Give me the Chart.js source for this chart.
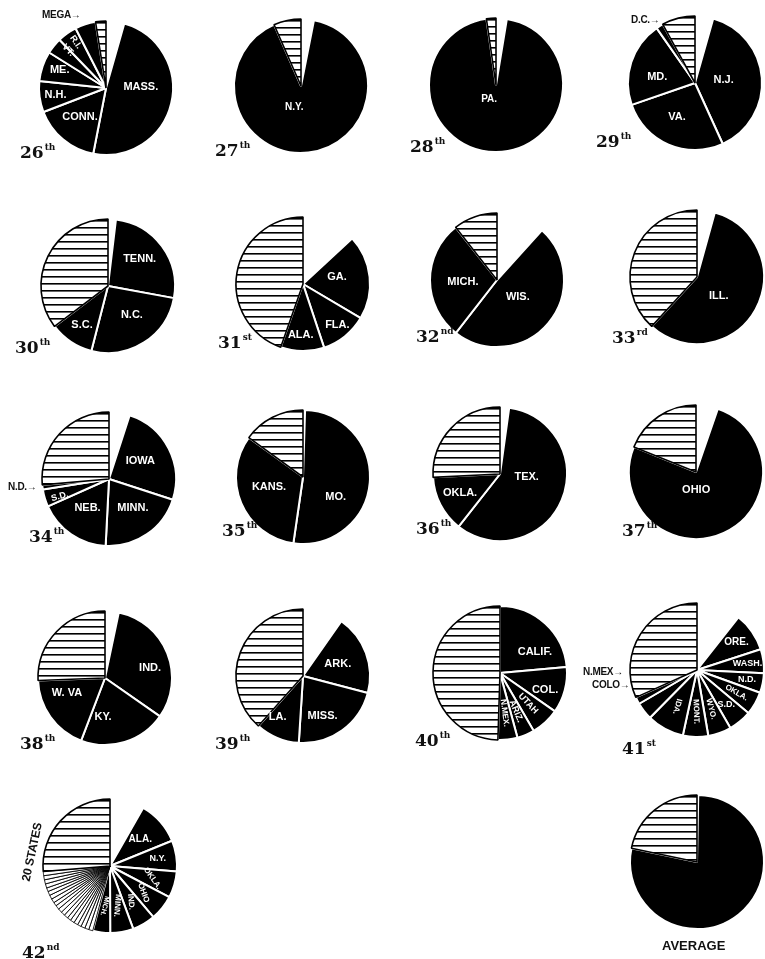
<!DOCTYPE html>
<html><head><meta charset="utf-8">
<script src="https://cdn.jsdelivr.net/npm/chart.js@4"></script>
<style>
body{margin:0;background:#fff;width:765px;height:959px;overflow:hidden;position:relative;}
canvas{position:absolute;z-index:1;}
.lbl{position:absolute;z-index:2;font-family:"DejaVu Serif",serif;font-weight:bold;font-size:17px;color:#111;white-space:nowrap;line-height:1;}
.lbl sup{font-size:9px;vertical-align:8px;margin-left:1px;}
.note{position:absolute;z-index:2;font-family:"Liberation Sans",sans-serif;font-weight:bold;font-size:10px;color:#111;white-space:nowrap;line-height:1;letter-spacing:-0.3px;}
</style></head><body>
<script>
// ---------- DATA: share of each slice (percent of circle), clockwise from 12 o'clock ----------
// "" = blank wedge, "REST" = hatched remainder, "*" = one of the "20 states" thin wedges
const congresses = ["26th","27th","28th","29th","30th","31st","32nd","33rd","34th","35th","36th","37th","38th","39th","40th","41st","42nd","AVERAGE"];

const states26 = ["", "MASS.", "CONN.", "N.H.", "ME.", "VT.", "R.I.", "MEGA", "REST"];
const values26 = [4.4, 48.6, 16.1, 7.5, 7.2, 3.9, 4.7, 5.0, 2.5];
const states27 = ["", "N.Y.", "REST"];
const values27 = [3.1, 90.3, 6.6];
const states28 = ["", "PA.", "REST"];
const values28 = [2.6, 95.1, 2.3];
const states29 = ["", "N.J.", "VA.", "MD.", "D.C.", "REST"];
const values29 = [4.4, 38.8, 26.5, 20.6, 1.7, 8.0];
const states30 = ["", "TENN.", "N.C.", "S.C.", "REST"];
const values30 = [1.9, 26.0, 26.1, 10.7, 35.3];
const states31 = ["", "GA.", "FLA.", "ALA.", "REST"];
const values31 = [13.1, 20.4, 11.4, 10.5, 44.6];
const states32 = ["", "WIS.", "MICH.", "REST"];
const values32 = [11.7, 48.8, 28.9, 10.6];
const states33 = ["", "ILL.", "REST"];
const values33 = [4.3, 57.5, 38.2];
const states34 = ["", "IOWA", "MINN.", "NEB.", "S.D.", "N.D.", "REST"];
const values34 = [5.0, 25.0, 20.8, 17.5, 4.2, 1.1, 26.4];
const states35 = ["", "MO.", "KANS.", "REST"];
const values35 = [0.5, 51.8, 32.7, 15.0];
const states36 = ["", "TEX.", "OKLA.", "REST"];
const values36 = [2.2, 58.4, 13.6, 25.8];
const states37 = ["", "OHIO", "REST"];
const values37 = [5.3, 75.8, 18.9];
const states38 = ["", "IND.", "KY.", "W. VA", "REST"];
const values38 = [3.3, 31.4, 21.1, 18.6, 25.6];
const states39 = ["", "ARK.", "MISS.", "LA.", "REST"];
const values39 = [9.7, 19.4, 21.9, 10.6, 38.4];
const states40 = ["CALIF.", "COL.", "UTAH", "ARIZ.", "N.MEX.", "REST"];
const values40 = [23.6, 11.1, 6.9, 4.2, 4.7, 49.5];
const states41 = ["", "ORE.", "WASH.", "N.D.", "OKLA.", "S.D.", "WYO.", "MONT.", "IDA.", "COLO.", "N.MEX.", "REST"];
const values41 = [10.6, 9.4, 5.8, 4.7, 5.6, 5.6, 5.6, 6.1, 9.0, 4.2, 1.7, 31.7];
const states42 = ["", "ALA.", "N.Y.", "OKLA.", "OHIO", "IND.", "MINN.", "MICH.",
  "*","*","*","*","*","*","*","*","*","*","*","*","*","*","*","*","*","*","*","*", "REST"];
const values42 = [8.3, 10.6, 7.5, 6.4, 6.1, 5.6, 5.6, 4.2,
  1.0, 1.0, 1.0, 0.9, 1.0, 1.0, 0.9, 1.0, 1.0, 1.0, 1.0, 0.9, 1.0, 1.0, 1.0, 0.9, 1.0, 1.0, 1.0, 1.0, 26.4];
const statesAvg = ["", "STATE", "REST"];
const valuesAvg = [0.3, 78.0, 21.7];

// ---------- LAYOUT / STYLE (kept separate from data) ----------
const S = 160, R = 67;
const centers = [[106,88],[301,86],[496,85],[695,83],
                 [108,286],[303,284],[497,280],[697,277],
                 [109,479],[303,477],[500,474],[696,472],
                 [105,678],[303,676],[500,673],[697,670],
                 [110,866],[697,862]];
const roundLabelPos = [[20,143],[215,141],[410,137],[596,132],
                       [15,338],[218,333],[416,327],[612,328],
                       [29,527],[222,521],[416,519],[622,521],
                       [20,734],[215,734],[415,731],[622,739],
                       [22,943],[662,939]];
// per slice: [radius fraction, angle offset deg, text rotation deg, font px] or null
const labelStyle = [
  [null,[0.52,-15,0],[0.58,2,0],[0.76,0,0],[0.74,2,0],[0.8,6,45,9],[0.82,2,55,9],null,null],
  [null,[0.33,24,0,10],null],
  [null,[0.23,26,0,10],null],
  [null,[0.43,-2,0],[0.57,5,0],[0.57,-9,0],null,null],
  [null,[0.62,-4,0],[0.56,-7,0],[0.7,0,0],null],
  [null,[0.52,-6,0],[0.8,-1,0],[0.76,2,0],null],
  [null,[0.4,-1,0],[0.51,-3,0],null],
  [null,[0.43,12,0],null],
  [null,[0.54,-3,0],[0.56,-5,0],[0.54,2,0],[0.78,-3,-15,9],null,null],
  [null,[0.57,26,0],[0.53,6,0],null],
  [null,[0.4,-17,0],[0.66,2,0],null],
  [null,[0.27,24,0],null],
  [null,[0.69,9,0],[0.58,20,0],[0.61,14,0],null],
  [null,[0.55,1,0],[0.67,10,0],[0.72,9,0],null],
  [[0.61,16,0],[0.72,6,0],[0.62,0,47,9],[0.62,0,67,9],[0.6,0,83,8],null],
  [null,[0.72,0,0,10],[0.76,0,0,9],[0.76,0,0,9],[0.68,0,30,8],[0.68,0,0,9],[0.62,0,75,8],[0.62,0,88,8],[0.62,0,105,8],null,null,null],
  [null,[0.6,0,0,10],[0.72,0,0,9],[0.66,0,55,8],[0.64,0,70,8],[0.62,0,85,8],[0.6,0,95,8],[0.6,0,105,7],
   null,null,null,null,null,null,null,null,null,null,null,null,null,null,null,null,null,null,null,null,null],
  [null,null,null]
];
const notes = [
  {t:"MEGA→", x:42, y:10},
  {t:"D.C.→", x:631, y:15},
  {t:"N.D.→", x:8, y:482},
  {t:"N.MEX→", x:583, y:667},
  {t:"COLO→", x:592, y:680},
];

const allStates = [states26,states27,states28,states29,states30,states31,states32,states33,states34,states35,states36,states37,states38,states39,states40,states41,states42,statesAvg];
const allValues = [values26,values27,values28,values29,values30,values31,values32,values33,values34,values35,values36,values37,values38,values39,values40,values41,values42,valuesAvg];

function hatch(ctx){
  const c=document.createElement('canvas'); c.width=4; c.height=7;
  const x=c.getContext('2d'); x.fillStyle='#fff'; x.fillRect(0,0,4,7);
  x.fillStyle='#000'; x.fillRect(0,0,4,1.6);
  return ctx.createPattern(c,'repeat');
}
function labelPlugin(style){
  return {id:'sliceText', afterDatasetsDraw(chart){
    const ctx=chart.ctx, meta=chart.getDatasetMeta(0), names=chart.data.labels;
    meta.data.forEach((arc,i)=>{
      const s=style[i]; if(!s) return;
      const [rf,da,rot,fs]=s;
      const p=arc.getProps(['x','y','startAngle','endAngle','outerRadius'],true);
      const a=(p.startAngle+p.endAngle)/2 + da*Math.PI/180;
      const r=p.outerRadius*rf;
      ctx.save();
      ctx.translate(p.x+Math.cos(a)*r, p.y+Math.sin(a)*r);
      ctx.rotate((rot||0)*Math.PI/180);
      ctx.font='bold '+(fs||11)+'px "Liberation Sans", sans-serif';
      ctx.fillStyle='#fff'; ctx.textAlign='center'; ctx.textBaseline='middle';
      ctx.fillText(names[i],0,0);
      ctx.restore();
    });
  }};
}

congresses.forEach((name,k)=>{
  const [cx,cy]=centers[k];
  const cv=document.createElement('canvas');
  cv.width=S; cv.height=S;
  cv.style.left=(cx-S/2)+'px'; cv.style.top=(cy-S/2)+'px';
  document.body.appendChild(cv);
  const ctx=cv.getContext('2d');
  const pat=hatch(ctx);
  const labels=allStates[k];
  const bg=[],bc=[],bw=[];
  labels.forEach(l=>{
    if(l===''){bg.push('#fff');bc.push('#fff');bw.push(0);}
    else if(l==='REST'){bg.push(pat);bc.push('#000');bw.push(1.6);}
    else if(l==='*'){bg.push('#fff');bc.push('#000');bw.push(0.9);}
    else {bg.push('#000');bc.push('#fff');bw.push(2);}
  });
  new Chart(cv,{
    type:'pie',
    data:{labels:labels,datasets:[{data:allValues[k],backgroundColor:bg,borderColor:bc,borderWidth:bw}]},
    options:{responsive:false,animation:false,radius:R,events:[],
      layout:{padding:0},
      plugins:{legend:{display:false},tooltip:{enabled:false}}},
    plugins:[labelPlugin(labelStyle[k])]
  });
  const d=document.createElement('div');
  d.className='lbl';
  d.style.left=roundLabelPos[k][0]+'px'; d.style.top=roundLabelPos[k][1]+'px';
  if(name==='AVERAGE'){
    d.style.fontFamily='"Liberation Sans",sans-serif'; d.style.fontSize='13px';
    d.textContent=name;
  } else {
    const m=name.match(/^(\d+)(\D+)$/);
    d.innerHTML=m[1]+'<sup>'+m[2]+'</sup>';
  }
  document.body.appendChild(d);
});
notes.forEach(n=>{
  const d=document.createElement('div'); d.className='note';
  d.style.left=n.x+'px'; d.style.top=n.y+'px'; d.textContent=n.t;
  document.body.appendChild(d);
});
const st=document.createElement('div'); st.className='note';
st.textContent='20 STATES';
st.style.left='2px'; st.style.top='846px'; st.style.fontSize='12px';
st.style.transform='rotate(-78deg)';
document.body.appendChild(st);
</script></body></html>
